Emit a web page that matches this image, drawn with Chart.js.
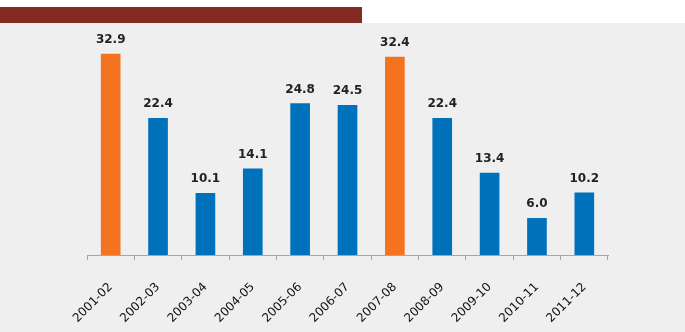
<!DOCTYPE html>
<html>
<head>
<meta charset="utf-8">
<script src="https://cdn.jsdelivr.net/npm/chart.js@4"></script>
<style>
  html, body { margin: 0; padding: 0; background: #fff; }
  #band { position: absolute; left: 0; top: 7px; width: 362px; height: 16px; background: #832b23; }
  #panel { position: absolute; left: 0; top: 23px; width: 685px; height: 309px; background: #efefef; }
</style>
</head>
<body>
<div id="band"></div>
<div id="panel"><canvas id="c" width="685" height="309"></canvas></div>
<script>
const years = ['2001-02', '2002-03', '2003-04', '2004-05', '2005-06', '2006-07',
  '2007-08', '2008-09', '2009-10', '2010-11', '2011-12'];
const growth = [32.9, 22.4, 10.1, 14.1, 24.8, 24.5, 32.4, 22.4, 13.4, 6.0, 10.2];
const highlight = ['2001-02', '2007-08'];

const barColors = years.map(y => highlight.includes(y) ? '#f47321' : '#0072bc');

// value labels above each bar
const valueLabels = {
  id: 'valueLabels',
  afterDatasetsDraw(chart) {
    const ctx = chart.ctx;
    const meta = chart.getDatasetMeta(0);
    ctx.save();
    ctx.font = 'bold 12px "DejaVu Sans"';
    ctx.fillStyle = '#222';
    ctx.textAlign = 'center';
    ctx.textBaseline = 'alphabetic';
    meta.data.forEach((bar, i) => {
      ctx.fillText(growth[i].toFixed(1), bar.x, bar.y - 11);
    });
    ctx.restore();
  }
};

new Chart(document.getElementById('c'), {
  type: 'bar',
  data: {
    labels: years,
    datasets: [{
      data: growth,
      backgroundColor: barColors,
      barThickness: 19
    }]
  },
  options: {
    responsive: false,
    animation: false,
    layout: { padding: { left: 87, right: 77, top: 0, bottom: 0 } },
    plugins: { legend: { display: false }, tooltip: { enabled: false } },
    scales: {
      x: {
        afterFit(scale) { scale.height = 77; },
        grid: { offset: true, drawOnChartArea: false, drawTicks: true, tickLength: 5, color: '#a6a6a6' },
        border: { color: '#a6a6a6' },
        ticks: {
          minRotation: 45, maxRotation: 45, padding: 20,
          color: '#111', font: { family: 'DejaVu Sans', size: 12 }
        }
      },
      y: { display: false, min: 0, max: 38 }
    }
  },
  plugins: [valueLabels]
});
</script>
</body>
</html>
